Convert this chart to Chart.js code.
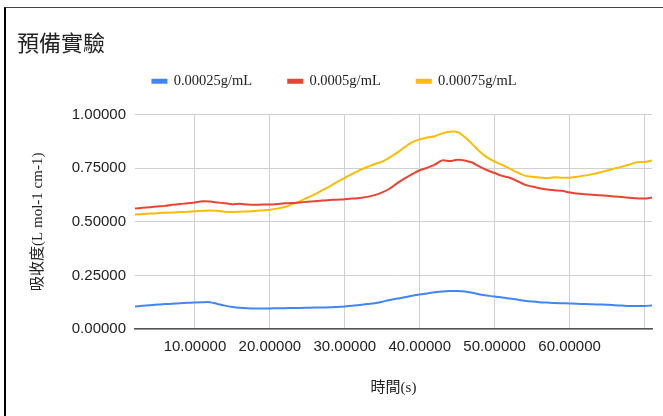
<!DOCTYPE html>
<html lang="zh-TW">
<head>
  <meta charset="UTF-8" />
  <title>預備實驗</title>
  <script src="https://cdn.jsdelivr.net/npm/chart.js"></script>
  <style>
    html, body { margin: 0; padding: 0; background: #fff; }
    .marco {
      position: absolute;
      left: 4px;
      top: 7px;
      width: 659px;
      height: 409px;
      border-top: 1px solid #444;
      border-left: 2px solid #000;
      box-sizing: border-box;
    }
    #chart { position: absolute; left: 0; top: 0; }
  </style>
</head>
<body>
  <div class="marco"></div>
  <canvas id="chart" width="663" height="416"></canvas>

  <script>
    // tiempo (s)
    const tiempos = [2, 3, 4, 5, 6, 7, 8, 9, 10, 11, 12, 13, 14, 15, 16, 17, 18, 19, 20, 21,
      22, 23, 24, 25, 26, 27, 28, 29, 30, 31, 32, 33, 34, 35, 36, 37, 38, 39, 40, 41,
      42, 43, 44, 45, 46, 47, 48, 49, 50, 51, 52, 53, 54, 55, 56, 57, 58, 59, 60, 61,
      62, 63, 64, 65, 66, 67, 68, 69, 70, 71];

    const serie1Nombre = '0.00025g/mL';
    const serie1 = [0.105, 0.108, 0.111, 0.114, 0.116, 0.118, 0.120, 0.122, 0.124, 0.125,
      0.125, 0.117, 0.109, 0.103, 0.099, 0.097, 0.096, 0.096, 0.096, 0.097,
      0.097, 0.098, 0.098, 0.099, 0.100, 0.100, 0.101, 0.103, 0.105, 0.108,
      0.112, 0.116, 0.120, 0.127, 0.135, 0.142, 0.148, 0.155, 0.161, 0.166,
      0.171, 0.175, 0.177, 0.177, 0.175, 0.169, 0.161, 0.156, 0.151, 0.147,
      0.142, 0.137, 0.132, 0.128, 0.125, 0.123, 0.121, 0.120, 0.119, 0.118,
      0.116, 0.115, 0.114, 0.113, 0.111, 0.109, 0.107, 0.107, 0.107, 0.110];

    const serie2Nombre = '0.0005g/mL';
    const serie2 = [0.562, 0.565, 0.568, 0.571, 0.574, 0.579, 0.583, 0.586, 0.590, 0.595,
      0.594, 0.590, 0.586, 0.582, 0.584, 0.580, 0.579, 0.580, 0.580, 0.583,
      0.586, 0.587, 0.590, 0.593, 0.596, 0.599, 0.601, 0.603, 0.605, 0.608,
      0.611, 0.616, 0.624, 0.637, 0.655, 0.680, 0.702, 0.722, 0.740, 0.752,
      0.766, 0.786, 0.783, 0.789, 0.786, 0.776, 0.757, 0.740, 0.727, 0.714,
      0.705, 0.690, 0.673, 0.664, 0.656, 0.650, 0.647, 0.644, 0.636, 0.632,
      0.628, 0.626, 0.623, 0.621, 0.618, 0.615, 0.612, 0.609, 0.608, 0.613];

    const serie3Nombre = '0.00075g/mL';
    const serie3 = [0.534, 0.536, 0.538, 0.540, 0.542, 0.543, 0.545, 0.547, 0.549, 0.551,
      0.553, 0.551, 0.547, 0.546, 0.547, 0.548, 0.550, 0.553, 0.556, 0.562,
      0.569, 0.582, 0.595, 0.612, 0.628, 0.647, 0.665, 0.686, 0.705, 0.723,
      0.741, 0.755, 0.769, 0.781, 0.800, 0.822, 0.848, 0.871, 0.884, 0.893,
      0.899, 0.912, 0.920, 0.919, 0.895, 0.862, 0.828, 0.800, 0.780, 0.765,
      0.748, 0.730, 0.715, 0.710, 0.706, 0.703, 0.707, 0.705, 0.705, 0.710,
      0.715, 0.722, 0.730, 0.739, 0.748, 0.757, 0.767, 0.778, 0.779, 0.786];

    const ticksX = [10, 20, 30, 40, 50, 60, 70];

    const fuenteSans = "'Liberation Sans', Arial, sans-serif";
    const fuenteSerif = "'Liberation Serif', 'Noto Sans CJK TC', serif";

    function puntos(valores) {
      return tiempos.map((t, i) => ({ x: t, y: valores[i] }));
    }

    function serie(nombre, valores, color) {
      return {
        label: nombre,
        data: puntos(valores),
        borderColor: color,
        backgroundColor: color,
        borderWidth: 2,
        pointRadius: 0,
        tension: 0.3
      };
    }

    // espacio extra debajo de la leyenda
    const margenLeyenda = {
      id: 'margenLeyenda',
      beforeInit(chart) {
        const fitOriginal = chart.legend.fit;
        chart.legend.fit = function fit() {
          fitOriginal.bind(chart.legend)();
          this.height += 16;
        };
      }
    };

    new Chart(document.getElementById('chart').getContext('2d'), {
      type: 'line',
      data: {
        datasets: [
          serie(serie1Nombre, serie1, '#4285F4'),
          serie(serie2Nombre, serie2, '#EA4335'),
          serie(serie3Nombre, serie3, '#FBBC04')
        ]
      },
      options: {
        responsive: false,
        animation: false,
        layout: { padding: { left: 17, right: 11, top: 0, bottom: 0 } },
        plugins: {
          title: {
            display: true,
            text: '預備實驗',
            align: 'start',
            color: '#222',
            font: { family: "'Noto Sans CJK TC', serif", size: 22, weight: 'normal', lineHeight: 1 },
            padding: { top: 32, bottom: -16 }
          },
          legend: {
            position: 'top',
            labels: {
              boxWidth: 14,
              boxHeight: 3,
              padding: 36,
              color: '#222',
              font: { family: fuenteSerif, size: 14.5 }
            }
          },
          tooltip: { enabled: false }
        },
        scales: {
          x: {
            type: 'linear',
            min: 2,
            max: 71,
            afterBuildTicks: axis => {
              axis.ticks = ticksX.map(v => ({ value: v }));
            },
            afterFit: s => { s.height = 87; },
            grid: { color: '#d0d0d0', drawTicks: false },
            border: { display: true, color: '#555', width: 1.5 },
            ticks: {
              autoSkip: false,
              maxRotation: 0,
              padding: 9,
              color: '#222',
              font: { family: fuenteSans, size: 15 },
              callback: v => (v >= 70 ? '' : v.toFixed(5))
            },
            title: {
              display: true,
              text: '時間(s)',
              color: '#222',
              font: { family: fuenteSerif, size: 15 },
              padding: { top: 0, bottom: 19 }
            }
          },
          y: {
            min: 0,
            max: 1,
            afterFit: s => { s.width = 118; },
            grid: { color: '#d0d0d0', drawTicks: false },
            border: { display: false },
            ticks: {
              stepSize: 0.25,
              padding: 9,
              color: '#222',
              font: { family: fuenteSans, size: 15 },
              callback: v => v.toFixed(5)
            },
            title: {
              display: true,
              text: '吸收度(L mol-1 cm-1)',
              color: '#222',
              font: { family: fuenteSerif, size: 15 },
              padding: { top: 12, bottom: 0 }
            }
          }
        }
      },
      plugins: [margenLeyenda]
    });
  </script>
</body>
</html>
